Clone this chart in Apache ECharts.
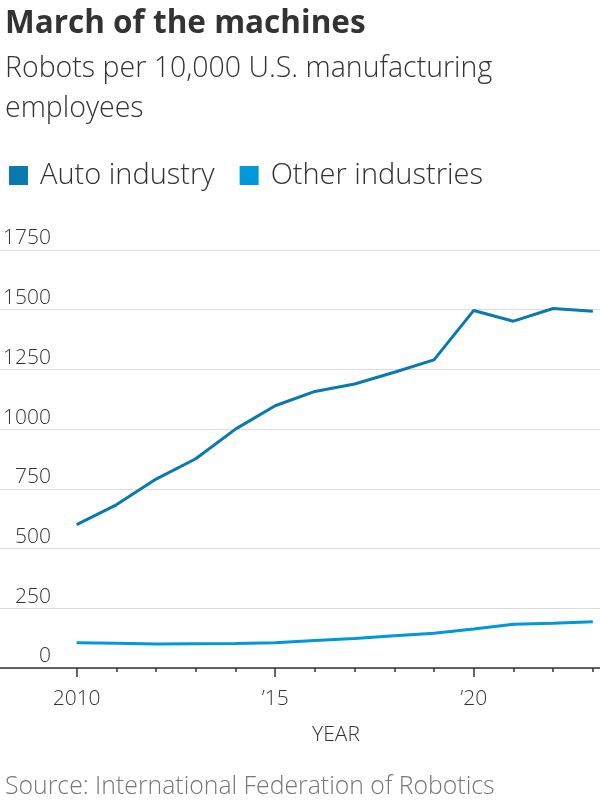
<!DOCTYPE html>
<html>
<head>
<meta charset="utf-8">
<script src="https://cdn.jsdelivr.net/npm/echarts@6/dist/echarts.min.js"></script>
<style>
  html, body { margin: 0; padding: 0; background: #fff; }
  #chart { width: 600px; height: 800px; }
</style>
</head>
<body>
<div id="chart"></div>
<script>
// robots per 10,000 manufacturing employees
var years = [2010, 2011, 2012, 2013, 2014, 2015, 2016, 2017, 2018, 2019, 2020, 2021, 2022, 2023];
var autoIndustry = [600, 683, 791, 876, 1000, 1098, 1158, 1189, 1238, 1290, 1497, 1452, 1505, 1494];
var otherIndustries = [106, 104, 100, 102, 103, 106, 115, 124, 135, 145, 163, 183, 187, 194];
var yearLabels = [2010, 2015, 2020];
var yTicks = [0, 250, 500, 750, 1000, 1250, 1500, 1750];

var font = '"Open Sans"';
var xMin = years[0] - 1.93;
var xMax = years[years.length - 1] + 0.18;

function pairs(vals) {
    return years.map(function (y, i) { return [y, vals[i]]; });
}

var chart = echarts.init(document.getElementById('chart'), null, { renderer: 'canvas' });

var option = {
    backgroundColor: '#fff',
    animation: false,
    textStyle: { fontFamily: font },
    title: [
        {
            text: 'March of the machines',
            left: 0, top: 3,
            textStyle: { fontFamily: font, fontSize: 31.5, fontWeight: 'bold', color: '#333' }
        },
        {
            text: 'Robots per 10,000 U.S. manufacturing\nemployees',
            left: 0, top: 44,
            textStyle: { fontFamily: font, fontSize: 28.5, fontWeight: 300, color: '#333', lineHeight: 40 }
        },
        {
            text: 'Source: International Federation of Robotics',
            left: 0, top: 769,
            textStyle: { fontFamily: font, fontSize: 24.8, fontWeight: 300, color: '#777' }
        }
    ],
    legend: {
        left: 4, top: 156,
        icon: 'rect',
        itemWidth: 19, itemHeight: 19,
        itemGap: 25,
        textStyle: { fontFamily: font, fontSize: 29, fontWeight: 300, color: '#333', padding: [0, 0, 0, 7] },
        data: ['Auto industry', 'Other industries']
    },
    grid: { left: 0, right: 0, top: 250, bottom: 132 },
    xAxis: [
        {
            type: 'value',
            min: xMin, max: xMax,
            name: 'YEAR',
            nameLocation: 'middle',
            nameGap: 57,
            nameTextStyle: { fontFamily: font, fontSize: 21, fontWeight: 300, color: '#333', padding: [0, 0, 0, 72] },
            axisLine: { show: true, lineStyle: { color: '#333', width: 1.5 } },
            axisTick: { show: true, customValues: yearLabels, length: 9, lineStyle: { color: '#333', width: 1.5 } },
            axisLabel: {
                customValues: yearLabels,
                margin: 21,
                fontFamily: font, fontSize: 21, fontWeight: 300, color: '#333',
                formatter: function (v) { return v === 2010 ? '2010' : '\u2019' + String(v).slice(2); }
            },
            splitLine: { show: false }
        },
        {
            type: 'value',
            min: xMin, max: xMax,
            position: 'bottom',
            axisLine: { show: false },
            axisTick: { show: true, customValues: years, length: 4, lineStyle: { color: '#333', width: 1.5 } },
            axisLabel: { show: false },
            splitLine: { show: false }
        }
    ],
    yAxis: {
        type: 'value',
        min: yTicks[0], max: yTicks[yTicks.length - 1], interval: 250,
        axisLine: { show: false },
        axisTick: { show: false },
        axisLabel: {
            inside: true,
            align: 'right',
            verticalAlign: 'bottom',
            margin: 51,
            padding: [0, 0, 1, 0],
            fontFamily: font, fontSize: 21, fontWeight: 300, color: '#333',
            formatter: function (v) { return String(v); }
        },
        splitLine: { lineStyle: { color: '#dcdcdc', width: 1.2 } }
    },
    series: [
        {
            name: 'Auto industry',
            type: 'line',
            data: pairs(autoIndustry),
            showSymbol: false,
            itemStyle: { color: '#0a79ae' },
            lineStyle: { color: '#0a79ae', width: 3 }
        },
        {
            name: 'Other industries',
            type: 'line',
            data: pairs(otherIndustries),
            showSymbol: false,
            itemStyle: { color: '#0098da' },
            lineStyle: { color: '#0098da', width: 3 }
        }
    ]
};

chart.setOption(option);
</script>
</body>
</html>
